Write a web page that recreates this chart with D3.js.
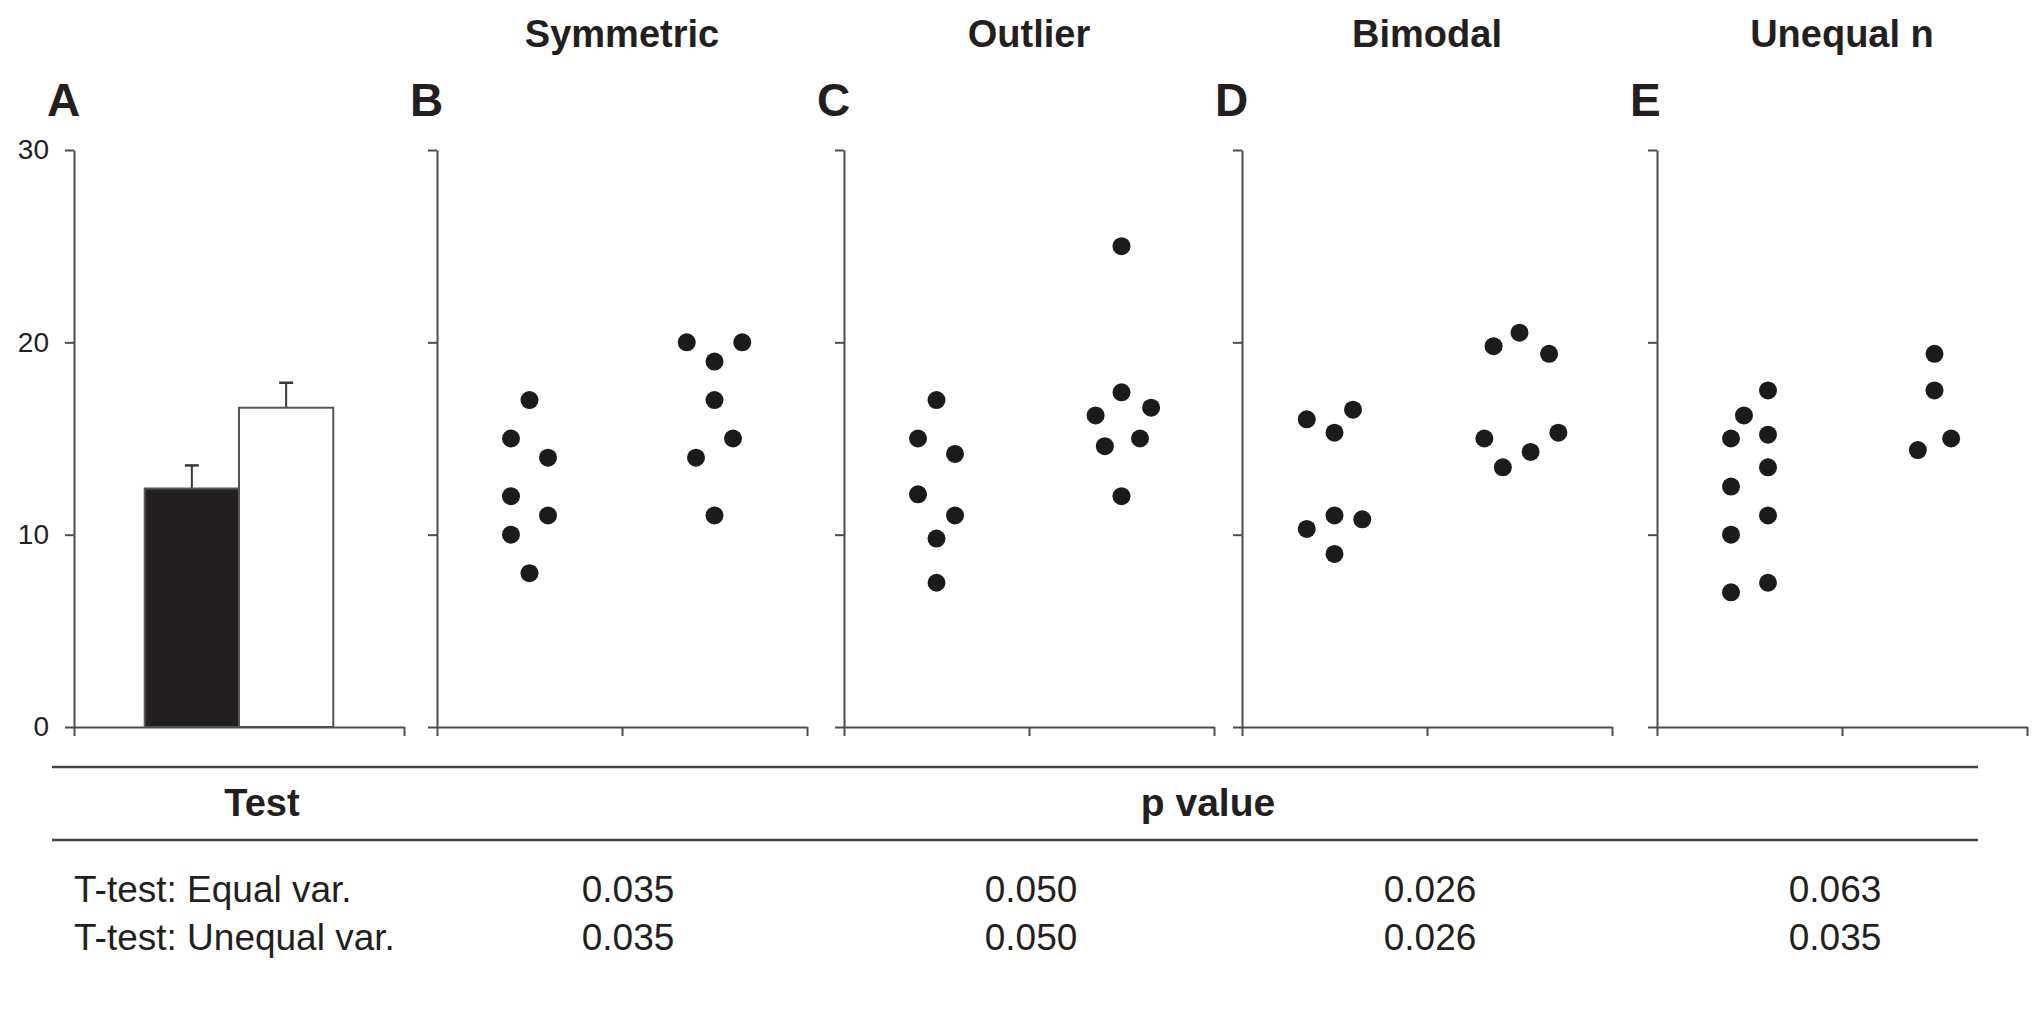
<!DOCTYPE html>
<html>
<head>
<meta charset="utf-8">
<script src="https://cdn.jsdelivr.net/npm/d3@7"></script>
<style>
  html, body { margin: 0; padding: 0; background: #fff; }
  svg { display: block; }
  text { font-family: "Liberation Sans", Arial, Helvetica, sans-serif; fill: #231f20; }
</style>
</head>
<body>
<svg id="chart" width="2038" height="1011"></svg>
<script>
// ---------------- DATA ----------------
const panelLetters = ["A", "B", "C", "D", "E"];
const panelTitles = ["Symmetric", "Outlier", "Bimodal", "Unequal n"];
const yTickValues = [0, 10, 20, 30];

// Panel A: bar chart (mean + SE)
const barGroups = ["Group 1", "Group 2"];
const barMeans = [12.4, 16.6];
const barErrors = [1.2, 1.3];
const barFills = ["#231f20", "#ffffff"];

// Scatter panels: values and horizontal jitter (in category units)
const symmetricG1 = [17, 15, 14, 12, 11, 10, 8];
const symmetricG1Jitter = [0, -0.1, 0.1, -0.1, 0.1, -0.1, 0];
const symmetricG2 = [20, 20, 19, 17, 15, 14, 11];
const symmetricG2Jitter = [-0.15, 0.15, 0, 0, 0.1, -0.1, 0];

const outlierG1 = [17, 15, 14.2, 12.1, 11, 9.8, 7.5];
const outlierG1Jitter = [0, -0.1, 0.1, -0.1, 0.1, 0, 0];
const outlierG2 = [25, 17.4, 16.6, 16.2, 15, 14.6, 12];
const outlierG2Jitter = [0, 0, 0.16, -0.14, 0.1, -0.09, 0];

const bimodalG1 = [16.0, 16.5, 15.3, 10.3, 11.0, 10.8, 9.0];
const bimodalG1Jitter = [-0.15, 0.1, 0, -0.15, 0, 0.15, 0];
const bimodalG2 = [20.5, 19.8, 19.4, 15.0, 15.3, 14.3, 13.5];
const bimodalG2Jitter = [0, -0.14, 0.16, -0.19, 0.21, 0.06, -0.09];

const unequalG1 = [17.5, 16.2, 15.0, 15.2, 13.5, 12.5, 11.0, 10.0, 7.5, 7.0];
const unequalG1Jitter = [0.1, -0.03, -0.1, 0.1, 0.1, -0.1, 0.1, -0.1, 0.1, -0.1];
const unequalG2 = [19.4, 17.5, 14.4, 15.0];
const unequalG2Jitter = [0, 0, -0.09, 0.09];

// Table
const tableHeaderTest = "Test";
const tableHeaderP = "p value";
const testNames = ["T-test: Equal var.", "T-test: Unequal var."];
const pEqualVar = ["0.035", "0.050", "0.026", "0.063"];
const pUnequalVar = ["0.035", "0.050", "0.026", "0.035"];

// ---------------- LAYOUT ----------------
const svg = d3.select("#chart");
svg.append("rect").attr("width", 2038).attr("height", 1011).attr("fill", "#fff");

const axisColor = "#4d4d4d";
const y = d3.scaleLinear().domain([0, 30]).range([727, 150]);
const panelX0 = [74, 437, 844, 1242, 1657];
const barPanelWidth = 330;
const scatterWidth = 370;

function drawYAxis(g, x0, withLabels) {
  const ax = d3.axisLeft(y).tickValues(yTickValues).tickSize(9).tickSizeOuter(0)
    .tickFormat(withLabels ? d3.format("d") : () => "");
  const gg = g.append("g").attr("transform", `translate(${x0},0)`).call(ax);
  gg.select(".domain").attr("stroke", axisColor).attr("stroke-width", 2);
  gg.selectAll(".tick line").attr("stroke", axisColor).attr("stroke-width", 2);
  gg.selectAll(".tick text").attr("x", -25).style("font-size", "28px")
    .style("font-family", '"Liberation Sans", Arial, sans-serif').attr("fill", "#333");
}

function drawXAxis(g, xScale, ticks) {
  const ax = d3.axisBottom(xScale).tickValues(ticks).tickSize(9).tickSizeOuter(0).tickFormat(() => "");
  const gg = g.append("g").attr("transform", `translate(0,${y(0)})`).call(ax);
  gg.select(".domain").attr("stroke", axisColor).attr("stroke-width", 2);
  gg.selectAll(".tick line").attr("stroke", axisColor).attr("stroke-width", 2);
}

// ---------- Panel A: bars ----------
{
  const g = svg.append("g");
  const xA = d3.scaleLinear().domain([0, 1]).range([panelX0[0], panelX0[0] + barPanelWidth]);
  const band = d3.scaleBand().domain(barGroups).range(xA.range()).paddingInner(0).paddingOuter(0.75);
  const bars = barGroups.map((k, i) => ({ k, m: barMeans[i], e: barErrors[i], f: barFills[i] }));

  const eb = g.selectAll(".eb").data(bars).enter().append("g");
  eb.append("line")
    .attr("x1", d => band(d.k) + band.bandwidth() / 2).attr("x2", d => band(d.k) + band.bandwidth() / 2)
    .attr("y1", d => y(d.m)).attr("y2", d => y(d.m + d.e))
    .attr("stroke", "#3a3a3a").attr("stroke-width", 2);
  eb.append("line")
    .attr("x1", d => band(d.k) + band.bandwidth() / 2 - 7).attr("x2", d => band(d.k) + band.bandwidth() / 2 + 7)
    .attr("y1", d => y(d.m + d.e)).attr("y2", d => y(d.m + d.e))
    .attr("stroke", "#3a3a3a").attr("stroke-width", 2.5);

  g.selectAll(".bar").data(bars).enter().append("rect")
    .attr("x", d => band(d.k)).attr("width", band.bandwidth())
    .attr("y", d => y(d.m)).attr("height", d => y(0) - y(d.m))
    .attr("fill", d => d.f).attr("stroke", "#555").attr("stroke-width", 2);

  drawYAxis(g, panelX0[0], true);
  drawXAxis(g, xA, [0, 1]);
}

// ---------- Scatter panels ----------
const scatterSets = [
  [[symmetricG1, symmetricG1Jitter], [symmetricG2, symmetricG2Jitter]],
  [[outlierG1, outlierG1Jitter], [outlierG2, outlierG2Jitter]],
  [[bimodalG1, bimodalG1Jitter], [bimodalG2, bimodalG2Jitter]],
  [[unequalG1, unequalG1Jitter], [unequalG2, unequalG2Jitter]]
];

scatterSets.forEach((groups, p) => {
  const g = svg.append("g");
  const x0 = panelX0[p + 1];
  const x = d3.scaleLinear().domain([0, 2]).range([x0, x0 + scatterWidth]);
  drawYAxis(g, x0, false);
  drawXAxis(g, x, [0, 1, 2]);

  const pts = [];
  groups.forEach(([vals, jit], gi) => {
    vals.forEach((v, i) => pts.push({ cx: gi + 0.5 + jit[i], v }));
  });
  g.selectAll("circle").data(pts).enter().append("circle")
    .attr("cx", d => x(d.cx)).attr("cy", d => y(d.v)).attr("r", 9)
    .attr("fill", "#1c1a1b");

  svg.append("text").attr("x", x(1)).attr("y", 47)
    .attr("text-anchor", "middle").style("font-size", "38px").style("font-weight", "bold")
    .text(panelTitles[p]);
});

// panel letters
panelLetters.forEach((L, i) => {
  svg.append("text").attr("x", panelX0[i] - 27).attr("y", 116)
    .style("font-size", "46px").style("font-weight", "bold").text(L);
});

// ---------- Table ----------
const colCenters = [628, 1031, 1430, 1835];
const tbl = svg.append("g");
[767, 840].forEach(ly => {
  tbl.append("line").attr("x1", 52).attr("x2", 1978).attr("y1", ly).attr("y2", ly)
    .attr("stroke", "#444").attr("stroke-width", 2.5);
});
tbl.append("text").attr("x", 262).attr("y", 816).attr("text-anchor", "middle")
  .style("font-size", "38px").style("font-weight", "bold").text(tableHeaderTest);
tbl.append("text").attr("x", 1208).attr("y", 816).attr("text-anchor", "middle")
  .style("font-size", "39px").style("font-weight", "bold").text(tableHeaderP);

const rows = [pEqualVar, pUnequalVar];
const rowY = [902, 950];
rows.forEach((vals, r) => {
  tbl.append("text").attr("x", 74).attr("y", rowY[r]).style("font-size", "37px").text(testNames[r]);
  vals.forEach((v, c) => {
    tbl.append("text").attr("x", colCenters[c]).attr("y", rowY[r]).attr("text-anchor", "middle")
      .style("font-size", "37px").text(v);
  });
});
</script>
</body>
</html>
